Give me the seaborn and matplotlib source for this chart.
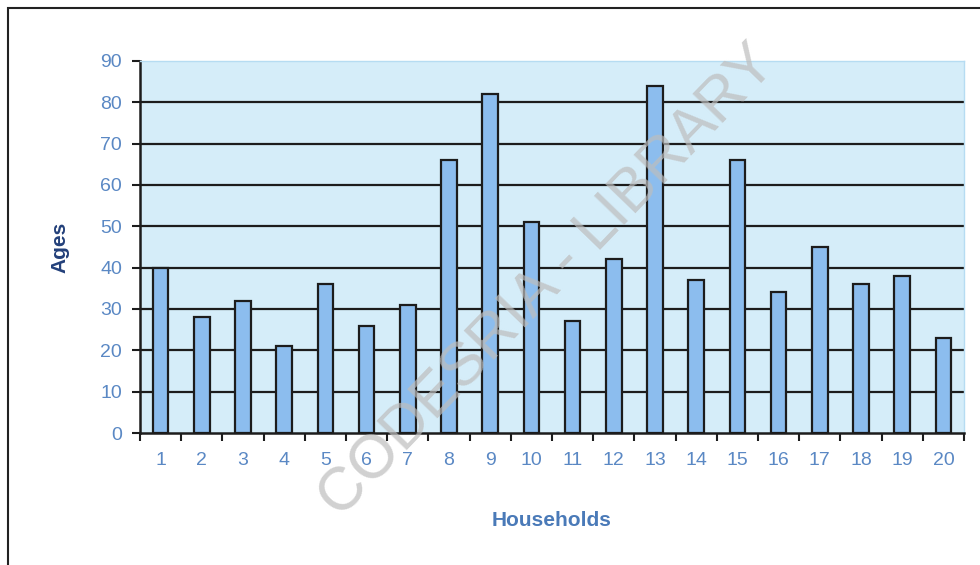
import matplotlib
matplotlib.use("Agg")
import matplotlib.pyplot as plt
import seaborn as sns
import pandas as pd
import numpy as np
from matplotlib.patches import Rectangle

households = [str(i) for i in range(1, 21)]
ages = [40, 28, 32, 21, 36, 26, 31, 66, 82, 51, 27, 42, 84, 37, 66, 34, 45, 36, 38, 23]
y_ticks = [0, 10, 20, 30, 40, 50, 60, 70, 80, 90]

sns.set_theme(style="white")
plt.rcParams['font.family'] = ['Liberation Sans', 'DejaVu Sans']

df = pd.DataFrame({"Households": households, "Ages": ages})

fig = plt.figure(figsize=(9.8, 5.65), dpi=100)
fig.patch.set_facecolor("white")
ax = fig.add_axes([140/980, 1-433/565, (964-140)/980, (433-61)/565])
ax.set_facecolor("#d5edf9")

sns.barplot(data=df, x="Households", y="Ages", color="#8cbdee", width=0.38,
            edgecolor="#1c1c1c", linewidth=1.6, saturation=1, ax=ax, zorder=3)

ax.set_ylim(0, 90)
ax.set_xlim(-0.5, len(households) - 0.5)
ax.set_yticks(y_ticks)
for v in y_ticks[1:-1]:
    ax.axhline(v, color="#1c1c1c", lw=1.6, zorder=1)

lab_col = "#5a88c4"
ax.tick_params(axis="y", which="major", direction="out", length=6, width=1.5,
               color="#1c1c1c", labelcolor=lab_col, labelsize=14, pad=7, left=True)
ax.set_xticks(np.arange(len(households)))
ax.set_xticklabels(households)
ax.set_xticks(np.arange(-0.5, len(households), 1), minor=True)
ax.tick_params(axis="x", which="major", length=0, labelcolor=lab_col, labelsize=14, pad=14)
ax.tick_params(axis="x", which="minor", direction="out", length=6, width=1.5,
               color="#1c1c1c", bottom=True)

for s in ["left", "bottom"]:
    ax.spines[s].set_color("#1c1c1c")
    ax.spines[s].set_linewidth(1.8)
for s in ["top", "right"]:
    ax.spines[s].set_color("#b6dcf2")
    ax.spines[s].set_linewidth(1.0)

ax.set_xlabel("Households", color="#4a7ab8", fontsize=15, fontweight="bold", labelpad=30)
ax.set_ylabel("Ages", color="#23407a", fontsize=15, fontweight="bold", labelpad=22)

# outer frame of the chart area
fig.patches.append(Rectangle((8/980, -0.05), 1.2, 1 - 8/565 + 0.05, transform=fig.transFigure,
                             fill=False, edgecolor="#222222", lw=1.5, zorder=0))

# watermark
fig.text(0.56, 0.5, "CODESRIA - LIBRARY", rotation=46, fontsize=44, color="#bdbdbd",
         alpha=0.7, ha="center", va="center", zorder=10)

fig.savefig("out.png", dpi=100, facecolor="white")
